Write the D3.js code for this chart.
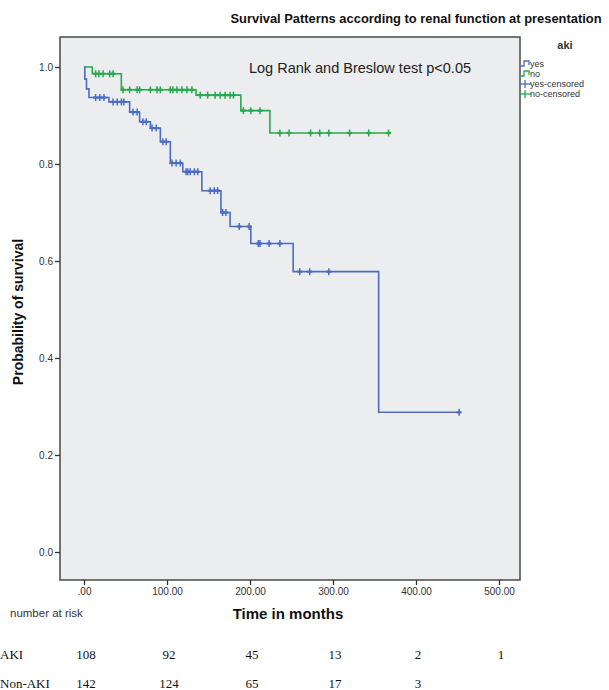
<!DOCTYPE html>
<html><head><meta charset="utf-8">
<script src="https://cdn.jsdelivr.net/npm/d3@7"></script>
<style>
body{margin:0;background:#fff;}
svg text{font-family:"Liberation Sans",Arial,sans-serif;}
</style></head>
<body><svg id="c" width="609" height="690"></svg>
<script>
// ---- data ----
const akiTimes = [0, 1, 3, 6, 30, 55, 67, 80, 92, 104, 119, 142, 165, 176, 201, 252, 355];
const akiSurv  = [1.0, 0.975, 0.955, 0.937, 0.928, 0.907, 0.887, 0.874, 0.846, 0.802, 0.784, 0.745, 0.700, 0.671, 0.636, 0.578, 0.288];
const akiEnd = 452;
const akiCensored = [14,19,24,35,40,45,48,59,64,71,75,82,87,95,99,106,111,116,123,125,128,133,137,152,157,161,167,171,187,199,210,212,223,236,260,272,295,452];

const nonTimes = [0, 10, 45, 135, 189, 224];
const nonSurv  = [1.0, 0.986, 0.953, 0.942, 0.910, 0.864];
const nonEnd = 367;
const nonCensored = [14,18,23,31,35,47,55,64,67,80,88,92,104,107,112,118,124,130,140,149,158,164,170,176,180,192,201,212,236,247,273,284,295,320,343,367];

const yTicks = [0, 0.2, 0.4, 0.6, 0.8, 1.0];
const xTicks = [0, 100, 200, 300, 400, 500];
const riskTimes = [0, 100, 200, 300, 400, 500];
const riskAKI = ["108", "92", "45", "13", "2", "1"];
const riskNonAKI = ["142", "124", "65", "17", "3", ""];
const legendItems = ["yes", "no", "yes-censored", "no-censored"];

// ---- layout ----
const svg = d3.select("#c");
const L = 60, R = 520, T = 37, B = 580;
const x = d3.scaleLinear().domain([0, 500]).range([84, 499]);
const y = d3.scaleLinear().domain([0, 1]).range([552, 67]);
const blue = "#4a6cc4", green = "#25aa4c";

svg.append("rect").attr("x", L).attr("y", T).attr("width", R - L).attr("height", B - T)
  .attr("fill", "#ebedee").attr("stroke", "#4a4a4a").attr("stroke-width", 1.5);

// axes
const yAxis = d3.axisLeft(y).tickValues(yTicks).tickFormat(d3.format(".1f")).tickSize(5).tickPadding(2);
const gy = svg.append("g").attr("transform", `translate(${L},0)`).call(yAxis);
const xAxis = d3.axisBottom(x).tickValues(xTicks).tickFormat(d => d === 0 ? ".00" : d.toFixed(2)).tickSize(5).tickPadding(3);
const gx = svg.append("g").attr("transform", `translate(0,${B})`).call(xAxis);
[gx, gy].forEach(g => {
  g.select(".domain").remove();
  g.selectAll("line").attr("stroke", "#333").attr("stroke-width", 1.3);
  g.selectAll("text").attr("fill", "#333").style("font-size", "10px");
});

// curves
const line = d3.line().x(d => x(d[0])).y(d => y(d[1])).curve(d3.curveStepAfter);
function drawCurve(times, surv, end, cens, col) {
  const pts = times.map((t, i) => [t, surv[i]]);
  pts.push([end, surv[surv.length - 1]]);
  svg.append("path").datum(pts).attr("d", line).attr("fill", "none")
    .attr("stroke", col).attr("stroke-width", 1.6);
  const sAt = t => { let s = surv[0]; times.forEach((tt, i) => { if (tt <= t) s = surv[i]; }); return s; };
  const g = svg.append("g").attr("stroke", col);
  cens.forEach(t => {
    const cx = x(t), cy = y(sAt(t));
    g.append("line").attr("x1", cx).attr("x2", cx).attr("y1", cy - 3.5).attr("y2", cy + 3.5).attr("stroke-width", 1.5);
    g.append("line").attr("x1", cx - 2.5).attr("x2", cx + 2.5).attr("y1", cy).attr("y2", cy).attr("stroke-width", 2.2);
  });
}
drawCurve(nonTimes, nonSurv, nonEnd, nonCensored, green);
drawCurve(akiTimes, akiSurv, akiEnd, akiCensored, blue);

// texts
svg.append("text").attr("x", 416).attr("y", 23).attr("text-anchor", "middle")
  .style("font-size", "12.9px").style("font-weight", "bold").attr("fill", "#111")
  .text("Survival Patterns according to renal function at presentation");
svg.append("text").attr("x", 360).attr("y", 73).attr("text-anchor", "middle")
  .style("font-size", "14.5px").attr("fill", "#222").text("Log Rank and Breslow test p<0.05");
svg.append("text").attr("transform", "translate(23,312) rotate(-90)").attr("text-anchor", "middle")
  .style("font-size", "14px").style("font-weight", "bold").attr("fill", "#111").text("Probability of survival");
svg.append("text").attr("x", 288).attr("y", 619).attr("text-anchor", "middle")
  .style("font-size", "15px").style("font-weight", "bold").attr("fill", "#111").text("Time in months");
svg.append("text").attr("x", 10).attr("y", 617)
  .style("font-size", "11.5px").attr("fill", "#333").text("number at risk");

// legend
svg.append("text").attr("x", 565).attr("y", 49).attr("text-anchor", "middle")
  .style("font-size", "11px").style("font-weight", "bold").attr("fill", "#333").text("aki");
const lg = svg.append("g");
legendItems.forEach((name, i) => {
  const ly = 64 + i * 10;
  const col = name.startsWith("yes") ? blue : green;
  if (name.endsWith("censored")) {
    lg.append("line").attr("x1", 519).attr("x2", 531).attr("y1", ly).attr("y2", ly).attr("stroke", col).attr("stroke-width", 1.3);
    lg.append("line").attr("x1", 525).attr("x2", 525).attr("y1", ly - 4).attr("y2", ly + 4).attr("stroke", col).attr("stroke-width", 1.3);
  } else {
    lg.append("path").attr("d", `M519,${ly + 2}H524V${ly - 3}H529V${ly + 1}`).attr("fill", "none")
      .attr("stroke", col).attr("stroke-width", 1.3);
  }
  lg.append("text").attr("x", 530).attr("y", ly + 3).style("font-size", "9px").attr("fill", "#333").text(name);
});

// risk table
const serif = "'Liberation Serif','Times New Roman',serif";
const rt = svg.append("g");
rt.append("text").attr("x", 0).attr("y", 659).style("font-size", "13px").style("font-family", serif).attr("fill", "#111").text("AKI");
rt.append("text").attr("x", 0).attr("y", 688).style("font-size", "13px").style("font-family", serif).attr("fill", "#111").text("Non-AKI");
riskTimes.forEach((t, i) => {
  rt.append("text").attr("x", x(t) + 2).attr("y", 659).attr("text-anchor", "middle")
    .style("font-size", "13px").style("font-family", serif).attr("fill", "#111").text(riskAKI[i]);
  rt.append("text").attr("x", x(t) + 2).attr("y", 688).attr("text-anchor", "middle")
    .style("font-size", "13px").style("font-family", serif).attr("fill", "#111").text(riskNonAKI[i]);
});
</script></body></html>
